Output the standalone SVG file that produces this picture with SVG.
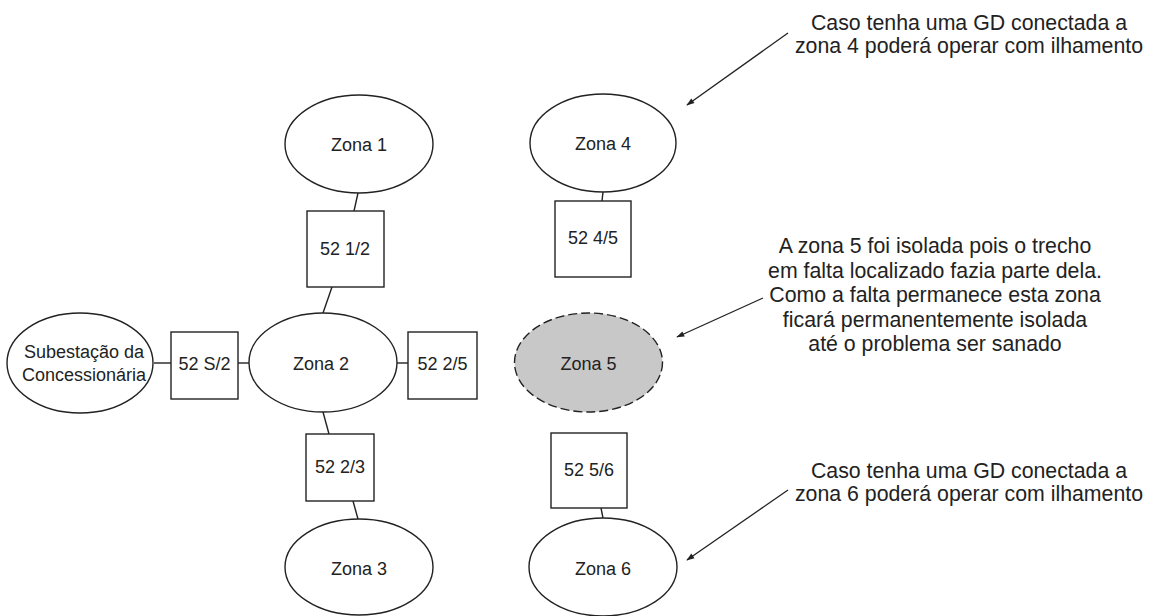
<svg xmlns="http://www.w3.org/2000/svg" width="1153" height="616" viewBox="0 0 1153 616">
<style>
.sh{fill:#fff;stroke:#222;stroke-width:1.4}
.iso{fill:#c8c8c8;stroke:#222;stroke-width:1.4;stroke-dasharray:9 4}
.t{font-family:"Liberation Sans",Arial,sans-serif;font-size:18px;fill:#222;text-anchor:middle}
.a{font-family:"Liberation Sans",Arial,sans-serif;font-size:21.3px;fill:#222;text-anchor:middle}
.c{stroke:#222;stroke-width:1.4;fill:none}
.ar{stroke:#222;stroke-width:1.3;fill:none;marker-end:url(#ah)}
</style>
<defs>
<marker id="ah" viewBox="0 0 10 10" refX="9" refY="5" markerWidth="10" markerHeight="8" markerUnits="userSpaceOnUse" orient="auto">
<path d="M0,1.5 L10,5 L0,8.5 Z" fill="#222"/>
</marker>
</defs>
<rect width="1153" height="616" fill="#fff"/>
<g id="connectors">
<line class="c" x1="358" y1="193" x2="354" y2="211"/>
<line class="c" x1="332" y1="287" x2="323" y2="313"/>
<line class="c" x1="154" y1="363" x2="171" y2="363"/>
<line class="c" x1="238" y1="363" x2="249" y2="363"/>
<line class="c" x1="397" y1="363" x2="408" y2="363"/>
<line class="c" x1="323" y1="412" x2="329" y2="434"/>
<line class="c" x1="353" y1="501" x2="358" y2="519"/>
<line class="c" x1="603" y1="192" x2="602" y2="201"/>
<line class="c" x1="601" y1="508" x2="603" y2="518"/>
<line class="ar" x1="788" y1="33" x2="687" y2="105"/>
<line class="ar" x1="763" y1="298" x2="677" y2="337"/>
<line class="ar" x1="788" y1="490" x2="687" y2="560"/>
</g>
<g id="zona1"><ellipse class="sh" cx="359" cy="144" rx="74" ry="49"/><text class="t" x="359" y="151">Zona 1</text></g>
<g id="b12"><rect class="sh" x="307" y="211" width="77" height="76"/><text class="t" x="345" y="255">52 1/2</text></g>
<g id="sub"><ellipse class="sh" cx="80" cy="363" rx="73" ry="50"/><text class="t" x="84" y="358">Subestação da</text><text class="t" x="84" y="381">Concessionária</text></g>
<g id="bs2"><rect class="sh" x="171" y="332" width="67" height="67"/><text class="t" x="204.5" y="370">52 S/2</text></g>
<g id="zona2"><ellipse class="sh" cx="323" cy="362.5" rx="74" ry="49.5"/><text class="t" x="321" y="370">Zona 2</text></g>
<g id="b25"><rect class="sh" x="408" y="332" width="69" height="67"/><text class="t" x="442.5" y="370">52 2/5</text></g>
<g id="b23"><rect class="sh" x="306" y="434" width="68" height="67"/><text class="t" x="340" y="473">52 2/3</text></g>
<g id="zona3"><ellipse class="sh" cx="359" cy="567" rx="74" ry="48"/><text class="t" x="359" y="575">Zona 3</text></g>
<g id="zona4"><ellipse class="sh" cx="603" cy="143" rx="73" ry="49"/><text class="t" x="603" y="150">Zona 4</text></g>
<g id="b45"><rect class="sh" x="555" y="201" width="76" height="76"/><text class="t" x="593" y="244">52 4/5</text></g>
<g id="zona5"><ellipse class="iso" cx="588.5" cy="362.5" rx="74" ry="49.5"/><text class="t" x="588.5" y="370">Zona 5</text></g>
<g id="b56"><rect class="sh" x="551" y="433" width="76" height="75"/><text class="t" x="589" y="476">52 5/6</text></g>
<g id="zona6"><ellipse class="sh" cx="603" cy="567" rx="74" ry="49"/><text class="t" x="603" y="575">Zona 6</text></g>
<g id="note1"><text class="a" x="969" y="30">Caso tenha uma GD conectada a</text><text class="a" x="969" y="53">zona 4 poderá operar com ilhamento</text></g>
<g id="note2"><text class="a" x="935" y="253">A zona 5 foi isolada pois o trecho</text><text class="a" x="935" y="277.5">em falta localizado fazia parte dela.</text><text class="a" x="935" y="302">Como a falta permanece esta zona</text><text class="a" x="935" y="326.5">ficará permanentemente isolada</text><text class="a" x="935" y="351">até o problema ser sanado</text></g>
<g id="note3"><text class="a" x="969" y="478">Caso tenha uma GD conectada a</text><text class="a" x="969" y="501">zona 6 poderá operar com ilhamento</text></g>
</svg>
